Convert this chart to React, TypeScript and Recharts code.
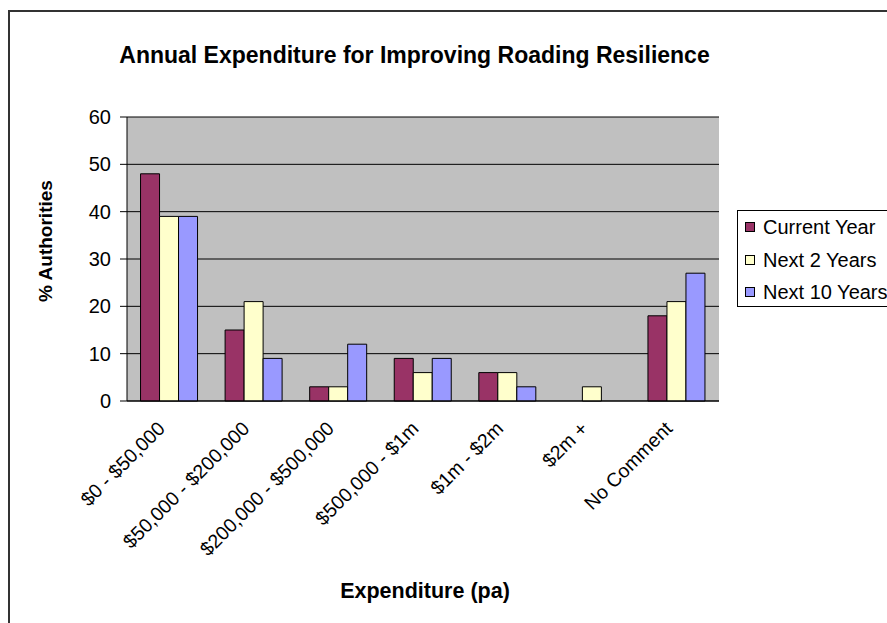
import React from 'react';
import { BarChart, Bar, XAxis, YAxis, CartesianGrid, Legend } from 'recharts';

const categories = ['$0 - $50,000', '$50,000 - $200,000', '$200,000 - $500,000', '$500,000 - $1m', '$1m - $2m', '$2m +', 'No Comment'];
const currentYear = [48, 15, 3, 9, 6, 0, 18];
const next2Years = [39, 21, 3, 6, 6, 3, 21];
const next10Years = [39, 9, 12, 9, 3, 0, 27];
const yTicks = [0, 10, 20, 30, 40, 50, 60];
const boundaryTicks = [0, 1, 2, 3, 4, 5, 6, 7];
const seriesNames = ['Current Year', 'Next 2 Years', 'Next 10 Years'];
const seriesColors = ['#993366', '#FFFFCC', '#9999FF'];

const data = categories.map((name, i) => ({
  name,
  current: currentYear[i],
  next2: next2Years[i],
  next10: next10Years[i],
}));

const FONT = "Arial, 'Liberation Sans', sans-serif";

const CategoryTick = (props: any) => {
  const { x, y, payload } = props;
  const ax = x - 8;
  const ay = y + 24;
  return (
    <text
      x={ax}
      y={ay}
      dy="0.35em"
      transform={`rotate(-45 ${ax} ${ay})`}
      textAnchor="end"
      fontSize={19.5}
      fontFamily={FONT}
      fill="#000"
    >
      {payload.value}
    </text>
  );
};

const LegendContent = () => {
  return (
    <div
      style={{
        border: '1px solid #000',
        background: '#fff',
        width: 170,
        height: 97,
        boxSizing: 'border-box',
        position: 'relative',
        fontFamily: FONT,
        fontSize: 20,
        color: '#000',
      }}
    >
      {seriesNames.map((name, i) => (
        <div
          key={name}
          style={{
            position: 'absolute',
            left: 7,
            top: 16 + i * 32.7 - 12,
            height: 24,
            display: 'flex',
            alignItems: 'center',
            whiteSpace: 'nowrap',
          }}
        >
          <span
            style={{
              display: 'inline-block',
              width: 10,
              height: 10,
              boxSizing: 'border-box',
              border: '1px solid #000',
              background: seriesColors[i],
              marginRight: 8,
            }}
          />
          <span style={{ lineHeight: '24px' }}>{name}</span>
        </div>
      ))}
    </div>
  );
};

export default function App() {
  return (
    <div
      style={{
        position: 'absolute',
        left: 8,
        top: 8,
        width: 879,
        height: 615,
        overflow: 'hidden',
        background: '#fff',
      }}
    >
      <div
        style={{
          position: 'absolute',
          left: 0,
          top: 2,
          width: 2000,
          height: 2000,
          borderLeft: '2px solid #333',
          borderTop: '2px solid #333',
        }}
      />
      <div
        style={{
          position: 'absolute',
          left: 0,
          top: 35,
          width: 813,
          textAlign: 'center',
          fontFamily: FONT,
          fontWeight: 'bold',
          fontSize: 23,
          lineHeight: '24px',
          color: '#000',
          whiteSpace: 'nowrap',
        }}
      >
        Annual Expenditure for Improving Roading Resilience
      </div>
      <div style={{ position: 'absolute', left: 0, top: 0 }}>
        <BarChart
          width={879}
          height={615}
          data={data}
          margin={{ top: 109, right: 168, left: 0, bottom: 0 }}
          barCategoryGap="16%"
          barGap={0}
        >
          <CartesianGrid vertical={false} stroke="#000" fill="#C0C0C0" fillOpacity={1} />
          <XAxis
            xAxisId="bounds"
            type="number"
            domain={[0, 7]}
            ticks={boundaryTicks}
            allowDataOverflow
            height={0}
            tick={false}
            tickSize={6}
            tickLine={{ stroke: '#000' }}
            axisLine={false}
          />
          <XAxis
            dataKey="name"
            height={222}
            interval={0}
            tickSize={0}
            tickMargin={0}
            tickLine={false}
            axisLine={{ stroke: '#000' }}
            tick={<CategoryTick />}
            label={{
              content: (p: any) => {
                const vb = p.viewBox || { x: 0, y: 0, width: 0, height: 0 };
                return (
                  <text
                    x={vb.x + vb.width / 2 + 2}
                    y={vb.y + 189}
                    dy="0.35em"
                    textAnchor="middle"
                    fontSize={21.5}
                    fontWeight="bold"
                    fontFamily={FONT}
                    fill="#000"
                  >
                    Expenditure (pa)
                  </text>
                );
              },
            }}
          />
          <XAxis
            xAxisId="top"
            orientation="top"
            type="number"
            domain={[0, 1]}
            allowDataOverflow
            height={0}
            tick={false}
            tickLine={false}
            axisLine={{ stroke: '#808080' }}
          />
          <YAxis
            width={119}
            domain={[0, 60]}
            ticks={yTicks}
            interval={0}
            tickSize={7}
            tickMargin={9}
            tick={{ fontSize: 20, fontFamily: FONT, fill: '#000' }}
            tickLine={{ stroke: '#000' }}
            axisLine={{ stroke: '#000' }}
            label={{
              content: (p: any) => {
                const vb = p.viewBox || { x: 0, y: 0, width: 0, height: 0 };
                const cx = vb.x + 37;
                const cy = vb.y + vb.height / 2 - 18;
                return (
                  <text
                    x={cx}
                    y={cy}
                    dy="0.35em"
                    transform={`rotate(-90 ${cx} ${cy})`}
                    textAnchor="middle"
                    fontSize={19}
                    fontWeight="bold"
                    fontFamily={FONT}
                    fill="#000"
                  >
                    % Authorities
                  </text>
                );
              },
            }}
          />
          <YAxis
            yAxisId="right"
            orientation="right"
            width={0}
            domain={[0, 60]}
            tick={false}
            tickLine={false}
            axisLine={{ stroke: '#808080' }}
          />
          <Legend
            layout="horizontal"
            align="center"
            verticalAlign="middle"
            content={<LegendContent />}
            wrapperStyle={{ position: 'absolute', left: 729, top: 202, width: 170, height: 97 }}
          />
          <Bar dataKey="current" name={seriesNames[0]} fill={seriesColors[0]} stroke="#000" strokeWidth={1} isAnimationActive={false} />
          <Bar dataKey="next2" name={seriesNames[1]} fill={seriesColors[1]} stroke="#000" strokeWidth={1} isAnimationActive={false} />
          <Bar dataKey="next10" name={seriesNames[2]} fill={seriesColors[2]} stroke="#000" strokeWidth={1} isAnimationActive={false} />
        </BarChart>
      </div>
    </div>
  );
}
